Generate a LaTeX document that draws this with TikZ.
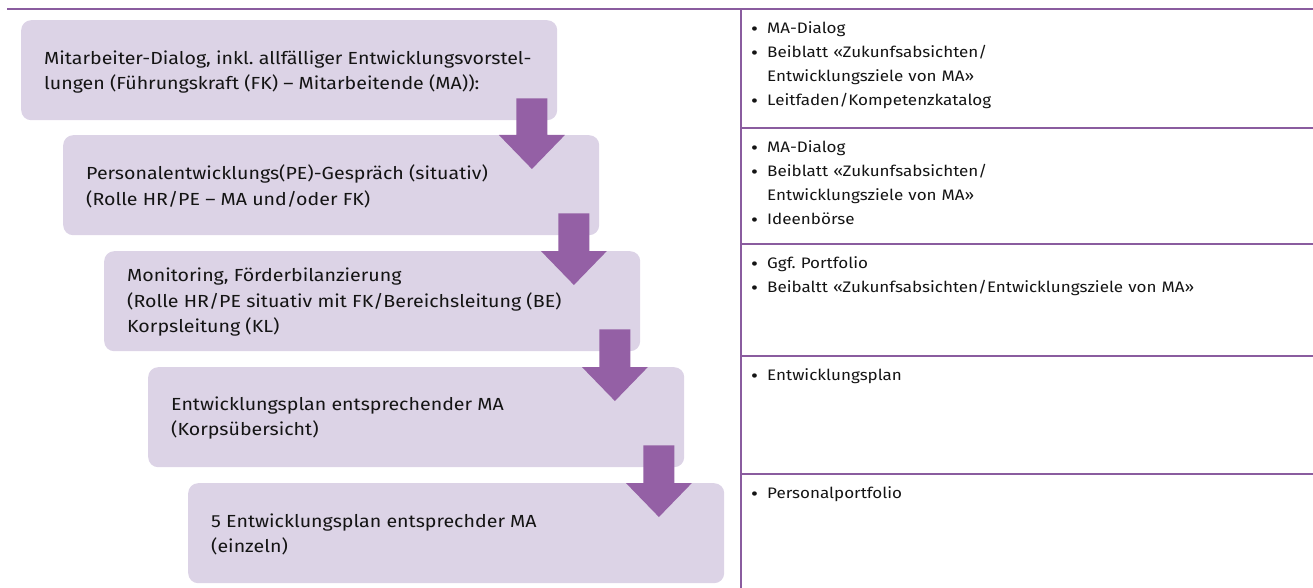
\documentclass[tikz,border=0pt]{standalone}
\usepackage{fontspec}
\setmainfont{Fira Sans}[FakeStretch=1.12]
\usetikzlibrary{calc}
\frenchspacing

\definecolor{boxfill}{HTML}{DCD3E6}
\definecolor{arrowfill}{HTML}{9460A5}
\definecolor{rulecol}{HTML}{8A5C9F}
\definecolor{ink}{HTML}{141414}

% bullet item with hanging indent for the tool column
\newcommand\bitem[1]{\hangindent=16pt\hangafter=1\noindent
  \makebox[16pt][l]{\raisebox{-2pt}{\fontsize{19}{19}\selectfont\textbullet}}#1\par}

\tikzset{
  stepbox/.style={rounded corners=10pt, fill=boxfill, anchor=north west,
    minimum width=536pt, minimum height=100pt, inner sep=0pt},
  steptext/.style={anchor=west, align=left, inner sep=0pt, text=ink,
    font=\fontsize{17.5}{25.5}\selectfont},
  toollist/.style={anchor=north west, text width=540pt, inner sep=0pt,
    align=left, text=ink, font=\fontsize{15.2}{24}\selectfont},
  flowarrow/.style={fill=arrowfill},
  rulestyle/.style={draw=rulecol, line width=1.2pt}
}

\begin{document}
\begin{tikzpicture}[x=1pt, y=-1pt]
  \useasboundingbox (0,0) rectangle (1313,588);

  % table rules
  \draw[rulestyle] (7,9) -- (1313,9);
  \draw[rulestyle] (741,9) -- (741,588);
  \foreach \yy in {128,244,356,474}
    \draw[rulestyle] (741,\yy) -- (1313,\yy);

  % process steps
  \node[stepbox] (b1) at (21,20)  {};
  \node[stepbox] (b2) at (63,135) {};
  \node[stepbox] (b3) at (104,251) {};
  \node[stepbox] (b4) at (148,367) {};
  \node[stepbox] (b5) at (188,483) {};

  \node[steptext] (t1) at ($(b1.west)+(23,2)$)
    {Mitarbeiter-Dialog, inkl. allfälliger Entwicklungsvorstel-\\
     lungen (Führungskraft (FK) – Mitarbeitende (MA)):};
  \node[steptext] (t2) at ($(b2.west)+(23,1)$)
    {Personalentwicklungs(PE)-Gespräch (situativ)\\
     (Rolle HR/PE – MA und/oder FK)};
  \node[steptext] (t3) at ($(b3.west)+(23,1)$)
    {Monitoring, Förderbilanzierung\\
     (Rolle HR/PE situativ mit FK/Bereichsleitung (BE)\\
     Korpsleitung (KL)};
  \node[steptext] (t4) at ($(b4.west)+(23,1)$)
    {Entwicklungsplan entsprechender MA\\
     (Korpsübersicht)};
  \node[steptext] (t5) at ($(b5.west)+(23,1)$)
    {5 Entwicklungsplan entsprechder MA\\
     (einzeln)};

  % arrows between consecutive steps
  \foreach \u/\v in {b1/b2,b2/b3,b3/b4,b4/b5}{
    \fill[flowarrow] let \p1=(\u.south east), \p2=(\v.north) in
      (\x1-41pt,\y1+22pt) -- (\x1-10pt,\y1+22pt) -- (\x1-10pt,\y2)
      -- (\x1+7.5pt,\y2) -- (\x1-25.5pt,\y2-34pt) -- (\x1-58.5pt,\y2)
      -- (\x1-41pt,\y2) -- cycle;
  }

  % tools per step
  \node[toollist] (l1) at (751,21) {%
    \bitem{MA-Dialog}%
    \bitem{Beiblatt «Zukunfsabsichten/\newline Entwicklungsziele von MA»}%
    \bitem{Leitfaden/Kompetenzkatalog}};
  \node[toollist] (l2) at (751,140) {%
    \bitem{MA-Dialog}%
    \bitem{Beiblatt «Zukunfsabsichten/\newline Entwicklungsziele von MA»}%
    \bitem{Ideenbörse}};
  \node[toollist] (l3) at (751,256) {%
    \bitem{Ggf. Portfolio}%
    \bitem{Beibaltt «Zukunfsabsichten/Entwicklungsziele von MA»}};
  \node[toollist] (l4) at (751,368) {%
    \bitem{Entwicklungsplan}};
  \node[toollist] (l5) at (751,486) {%
    \bitem{Personalportfolio}};
\end{tikzpicture}
\end{document}
